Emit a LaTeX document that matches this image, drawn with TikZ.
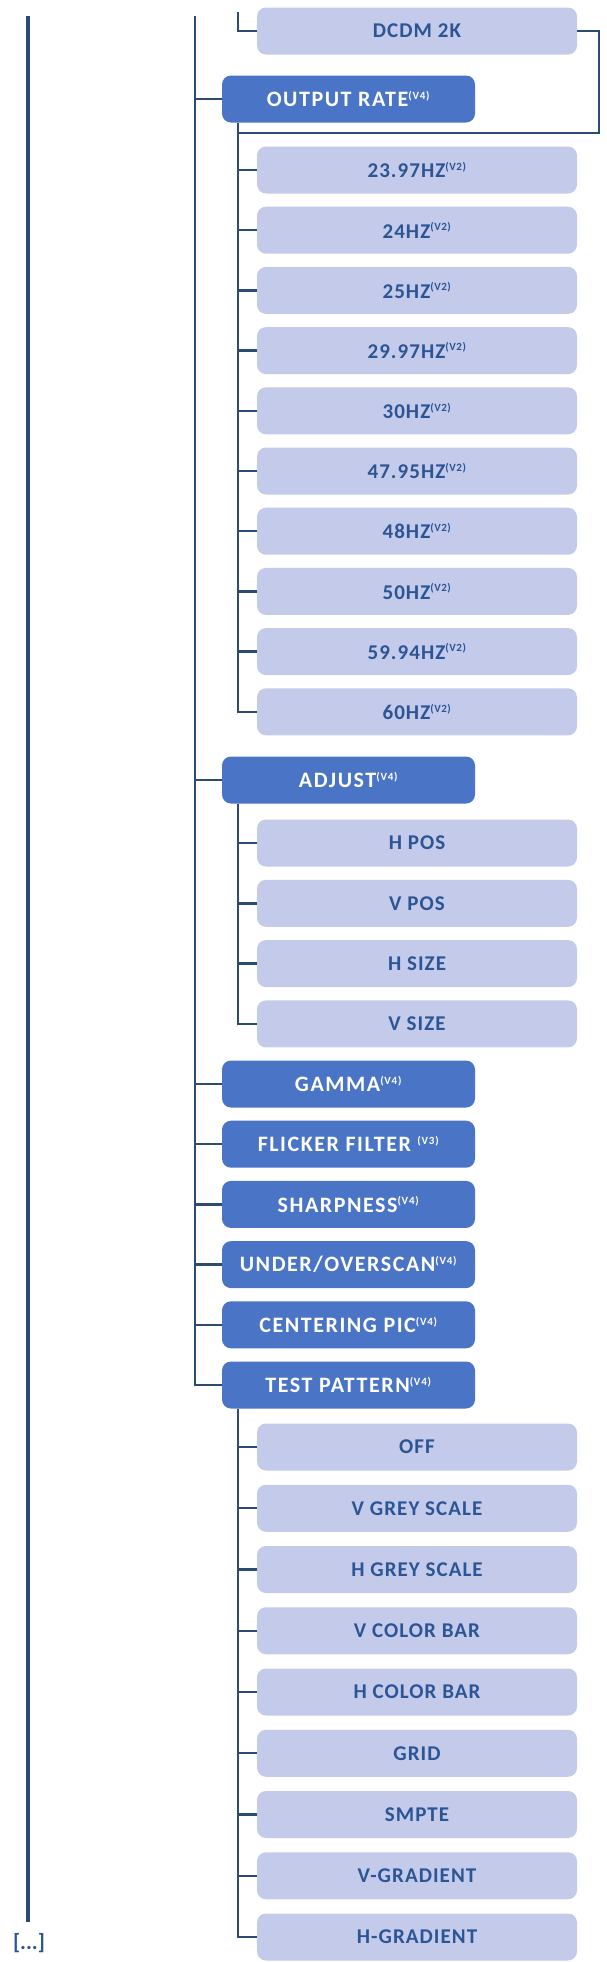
\documentclass[tikz,border=0pt]{standalone}
\usepackage{fontspec}
\setmainfont{Carlito}
\begin{document}
\begin{tikzpicture}[x=1pt,y=-1pt,
  line/.style={draw=lineC,line width=2.4pt},
  main/.style={rounded corners=9pt,fill=mainC,text=white,minimum width=253pt,minimum height=47pt,font=\bfseries\fontsize{22}{24}\selectfont\addfontfeature{LetterSpace=7},inner sep=0pt},
  sub/.style={rounded corners=9pt,fill=subC,text=txtC,minimum width=320pt,minimum height=47pt,font=\bfseries\fontsize{21}{24}\selectfont\addfontfeature{LetterSpace=5},inner sep=0pt}]
\definecolor{mainC}{HTML}{4A74C6}
\definecolor{subC}{HTML}{C4CAEA}
\definecolor{txtC}{HTML}{2C5596}
\definecolor{lineC}{HTML}{2B4C70}
\newcommand{\vv}[1]{\textsuperscript{\fontsize{11}{11}\selectfont(#1)}}
\useasboundingbox (0,0) rectangle (606,1962);
\fill[white] (0,0) rectangle (606,1962);
\coordinate (ltop) at (28,16);
\coordinate (lbot) at (28,1922);
\coordinate (mtop) at (195,16);
\coordinate (sx) at (238,12);
\coordinate (dr) at (599,133);
\node[sub] (dcdm) at (417,31) {DCDM 2K};
\node[main] (or) at (348.5,99) {OUTPUT RATE\vv{V4}};
\foreach \n/\t [count=\i from 0] in {h1/23.97HZ,h2/24HZ,h3/25HZ,h4/29.97HZ,h5/30HZ,h6/47.95HZ,h7/48HZ,h8/50HZ,h9/59.94HZ,h10/60HZ}
  \node[sub] (\n) at (417,{170+60.2*\i}) {\t\vv{V2}};
\node[main] (adj) at (348.5,780) {ADJUST\vv{V4}};
\foreach \n/\t [count=\i from 0] in {a1/H POS,a2/V POS,a3/H SIZE,a4/V SIZE}
  \node[sub] (\n) at (417,{843+60.3*\i}) {\t};
\foreach \n/\t/\v [count=\i from 0] in {g/GAMMA/V4,f/FLICKER FILTER /V3,s/SHARPNESS/V4,u/{UNDER/OVERSCAN}/V4,c/CENTERING PIC/V4,tp/TEST PATTERN/V4}
  \node[main] (\n) at (348.5,{1084+60.2*\i}) {\t\vv{\v}};
\foreach \n/\t [count=\i from 0] in {t1/OFF,t2/V GREY SCALE,t3/H GREY SCALE,t4/V COLOR BAR,t5/H COLOR BAR,t6/GRID,t7/SMPTE,t8/V-GRADIENT,t9/H-GRADIENT}
  \node[sub] (\n) at (417,{1447+61.25*\i}) {\t};
\node[text=txtC,font=\bfseries\fontsize{22}{24}\selectfont] (dots) at (29,1943) {[...]};
\draw[lineC,line width=4pt] (ltop) -- (lbot);
\draw[line] (mtop) |- (tp.west);
\foreach \n in {or,adj,g,f,s,u,c} \draw[line] (\n.west) -- (\n.west -| mtop);
\draw[line] (sx) |- (dcdm.west);
\draw[line] (dcdm.east) -| (dr) -- (dr -| sx);
\draw[line] (or.south -| sx) |- (h10.west);
\foreach \n in {h1,h2,h3,h4,h5,h6,h7,h8,h9} \draw[line] (\n.west) -- (\n.west -| sx);
\draw[line] (adj.south -| sx) |- (a4.west);
\foreach \n in {a1,a2,a3} \draw[line] (\n.west) -- (\n.west -| sx);
\draw[line] (tp.south -| sx) |- (t9.west);
\foreach \n in {t1,t2,t3,t4,t5,t6,t7,t8} \draw[line] (\n.west) -- (\n.west -| sx);
\end{tikzpicture}
\end{document}
